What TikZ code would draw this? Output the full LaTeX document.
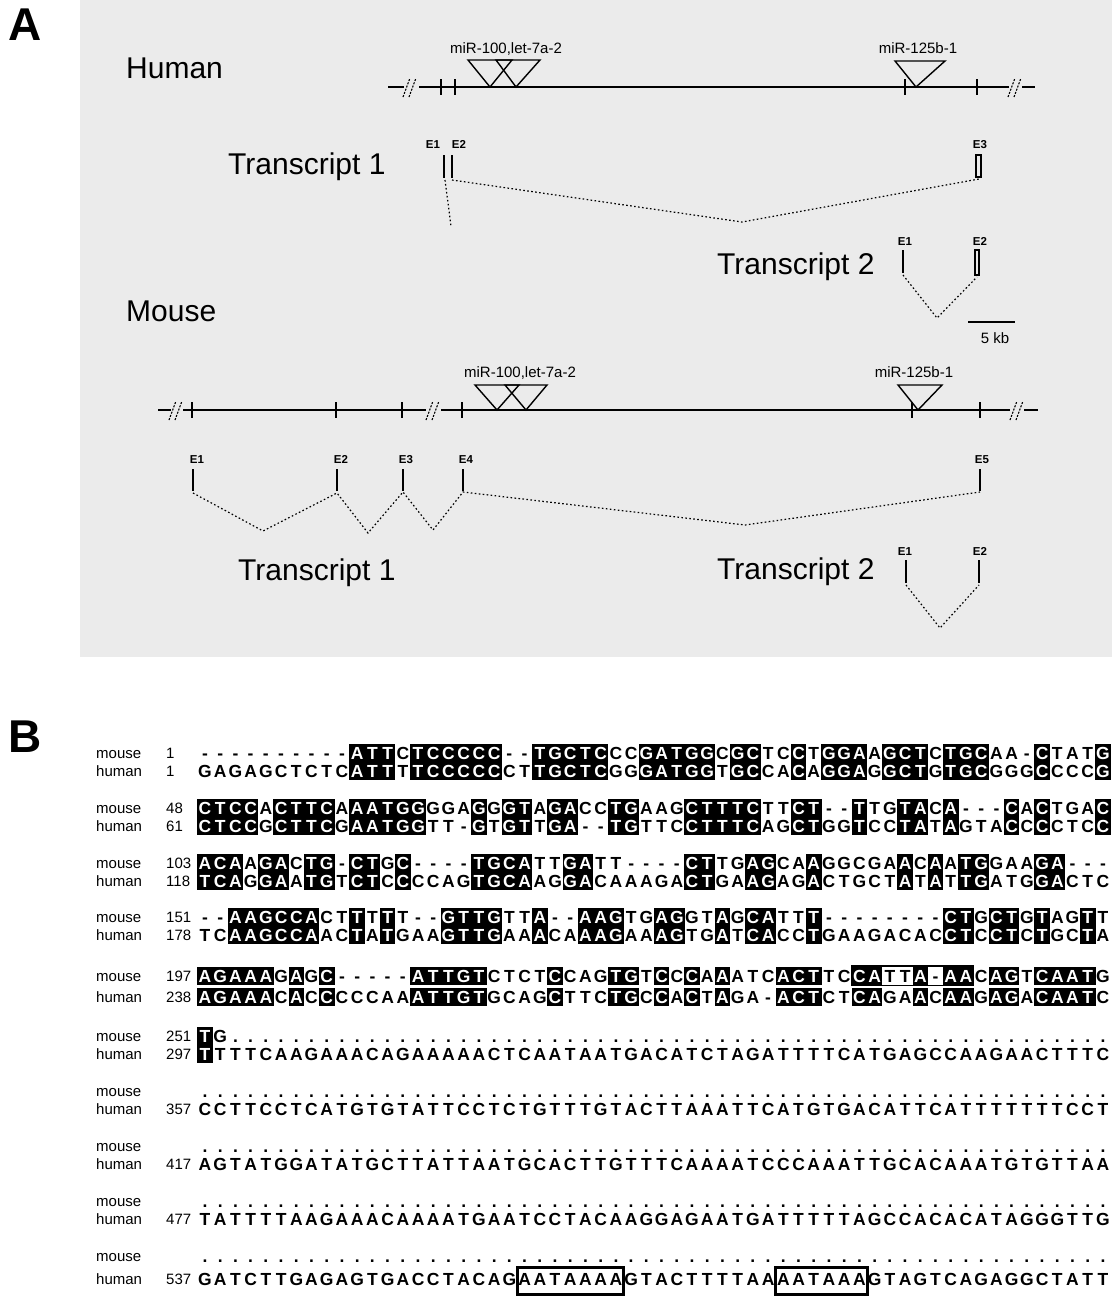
\documentclass[tikz,border=0pt]{standalone}
\usepackage{fontspec}
\setmainfont{Liberation Sans}
\definecolor{panelgray}{RGB}{235,235,235}
\tikzset{
 seqb/.style={anchor=base, inner sep=0pt, font=\fontsize{17.5}{19}\selectfont\bfseries, text=black},
 seqw/.style={seqb, text=white},
 rowlab/.style={anchor=base west, inner sep=0pt, font=\fontsize{15}{18}\selectfont},
 big/.style={anchor=base west, inner sep=0pt, font=\fontsize{30}{34}\selectfont},
 mir/.style={anchor=base, inner sep=0pt, font=\fontsize{15}{18}\selectfont},
 exlab/.style={anchor=base, inner sep=0pt, font=\fontsize{11.5}{13}\selectfont\bfseries},
 gene/.style={line width=1.6pt},
 gtick/.style={line width=2pt},
 tri/.style={line width=1.4pt, line join=miter},
 splice/.style={line width=1.2pt, dash pattern=on 1.6pt off 2.4pt},
 exon/.style={line width=2pt},
 brk/.style={line width=1.1pt, dash pattern=on 2pt off 1.4pt},
 plab/.style={anchor=base west, inner sep=0pt, font=\fontsize{46}{50}\selectfont\bfseries},
 hbox/.style={draw, line width=3pt},
}
\newcommand\SeqCell[4]{%
  \pgfmathsetmacro\sqx{205+(#1-1)*15.22}%
  \ifnum#4=1
    \fill[black] (\sqx-7.75,#2-8.7) rectangle (\sqx+7.75,#2+8.7);
    \node[seqw] (q#1-#2) at (\sqx,#2+6.3) {#3};
  \else
    \node[seqb] (q#1-#2) at (\sqx,#2+6.3) {#3};
  \fi}
\ExplSyntaxOn
\str_new:N \l_sq_m_str
\str_new:N \l_sq_h_str
\tl_new:N \l_sq_mc_tl
\tl_new:N \l_sq_hc_tl
\clist_new:N \l_sq_force_clist
\bool_new:N \l_sq_black_bool
\str_const:Nn \c_sq_letters_str {ACGT}
\cs_new_protected:Npn \SeqBlock #1#2#3#4#5
  {
    \str_set:Nx \l_sq_m_str {#3}
    \str_set:Nx \l_sq_h_str {#4}
    \clist_set:Nn \l_sq_force_clist {#5}
    \int_step_inline:nnn {1} {60}
      {
        \tl_set:Nx \l_sq_mc_tl { \str_item:Nn \l_sq_m_str {##1} }
        \tl_set:Nx \l_sq_hc_tl { \str_item:Nn \l_sq_h_str {##1} }
        \bool_set_false:N \l_sq_black_bool
        \tl_if_eq:NNT \l_sq_mc_tl \l_sq_hc_tl
          {
            \exp_args:NNV \str_if_in:NnT \c_sq_letters_str \l_sq_mc_tl
              { \bool_set_true:N \l_sq_black_bool }
          }
        \clist_if_in:NnT \l_sq_force_clist {##1}
          { \bool_set_true:N \l_sq_black_bool }
        \bool_if:NTF \l_sq_black_bool
          {
            \SeqCell {##1} {#1} {\l_sq_mc_tl} {1}
            \SeqCell {##1} {#2} {\l_sq_hc_tl} {1}
          }
          {
            \SeqCell {##1} {#1} {\l_sq_mc_tl} {0}
            \SeqCell {##1} {#2} {\l_sq_hc_tl} {0}
          }
      }
  }
\ExplSyntaxOff
\def\TenDots{..........}
\def\SixtyDots{\TenDots\TenDots\TenDots\TenDots\TenDots\TenDots}
\def\FiftyEightDots{........\TenDots\TenDots\TenDots\TenDots\TenDots}
\begin{document}
\begin{tikzpicture}[x=1pt,y=-1pt]
\useasboundingbox (0,0) rectangle (1116,1296);
\fill[white] (0,0) rectangle (1116,1296);
\fill[panelgray] (80,0) rectangle (1112,657);
% panel letters
\node[plab] (labA) at (8,40) {A};
\node[plab] (labB) at (8,752) {B};
% ---------------- Human ----------------
\node[big] (human) at (126,78) {Human};
\draw[gene] (388,87) -- (404,87);
\draw[brk] (403,97) -- (410,78);
\draw[brk] (409,97) -- (416,78);
\draw[gene] (419,87) -- (1009,87);
\draw[brk] (1008,97) -- (1015,78);
\draw[brk] (1014,97) -- (1021,78);
\draw[gene] (1022,87) -- (1035,87);
\foreach \tx in {441,455,905,977} \draw[gtick] (\tx,79) -- (\tx,95);
\draw[tri] (468,60) -- (512,60) -- (490,87) -- cycle;
\draw[tri] (496,60) -- (540,60) -- (516,87) -- cycle;
\draw[tri] (895,61) -- (945,61) -- (916,87) -- cycle;
\node[mir] (hmir1) at (506,53) {miR-100,let-7a-2};
\node[mir] (hmir2) at (918,53) {miR-125b-1};
% Human transcript 1
\node[big] (ht1) at (228,174) {Transcript 1};
\node[exlab] (ht1e1l) at (433,148) {E1};
\node[exlab] (ht1e2l) at (459,148) {E2};
\node[exlab] (ht1e3l) at (980,148) {E3};
\draw[exon] (444,155) -- (444,178);
\draw[exon] (452,155) -- (452,178);
\draw[line width=1.2pt] (976,155) rectangle (981,177);
\coordinate (h1a) at (445,180);
\coordinate (h1b) at (452,180);
\coordinate (h1v0) at (451,226);
\coordinate (h1v) at (742,222);
\coordinate (h1c) at (979,179);
\draw[splice] (h1a) -- (h1v0);
\draw[splice] (h1b) -- (h1v) -- (h1c);
% Human transcript 2
\node[big] (ht2) at (717,274) {Transcript 2};
\node[exlab] (ht2e1l) at (905,245) {E1};
\node[exlab] (ht2e2l) at (980,245) {E2};
\draw[exon] (903,250) -- (903,273);
\draw[line width=1.2pt] (975,250) rectangle (979,275);
\coordinate (h2a) at (903,275);
\coordinate (h2v) at (937,318);
\coordinate (h2b) at (977,277);
\draw[splice] (h2a) -- (h2v) -- (h2b);
% scale bar
\draw[line width=1.2pt] (968,322) -- (1015,322);
\node[mir] (kb) at (995,343) {5 kb};
% ---------------- Mouse ----------------
\node[big] (mouse) at (126,321) {Mouse};
\draw[gene] (158,410) -- (171,410);
\draw[brk] (169,420) -- (176,401);
\draw[brk] (175,420) -- (182,401);
\draw[gene] (183,410) -- (426,410);
\draw[brk] (426,420) -- (433,401);
\draw[brk] (432,420) -- (439,401);
\draw[gene] (441,410) -- (1010,410);
\draw[brk] (1010,420) -- (1017,401);
\draw[brk] (1016,420) -- (1023,401);
\draw[gene] (1024,410) -- (1038,410);
\foreach \tx in {192,336,402,462,912,980} \draw[gtick] (\tx,402) -- (\tx,418);
\draw[tri] (475,385) -- (519,385) -- (497,410) -- cycle;
\draw[tri] (505,385) -- (547,385) -- (526,410) -- cycle;
\draw[tri] (898,385) -- (942,385) -- (918,410) -- cycle;
\node[mir] (mmir1) at (520,377) {miR-100,let-7a-2};
\node[mir] (mmir2) at (914,377) {miR-125b-1};
% Mouse transcript 1
\node[exlab] (m1l1) at (197,463) {E1};
\node[exlab] (m1l2) at (341,463) {E2};
\node[exlab] (m1l3) at (406,463) {E3};
\node[exlab] (m1l4) at (466,463) {E4};
\node[exlab] (m1l5) at (982,463) {E5};
\foreach \ex in {193,337,403,463,980} \draw[exon] (\ex,469) -- (\ex,491);
\coordinate (m1e1) at (193,493);
\coordinate (m1v1) at (263,531);
\coordinate (m1e2) at (337,493);
\coordinate (m1v2) at (368,533);
\coordinate (m1e3) at (403,492);
\coordinate (m1v3) at (433,530);
\coordinate (m1e4) at (463,492);
\coordinate (m1v4) at (745,525);
\coordinate (m1e5) at (980,492);
\draw[splice] (m1e1) -- (m1v1) -- (m1e2) -- (m1v2) -- (m1e3) -- (m1v3) -- (m1e4) -- (m1v4) -- (m1e5);
\node[big] (mt1) at (238,580) {Transcript 1};
% Mouse transcript 2
\node[big] (mt2) at (717,579) {Transcript 2};
\node[exlab] (m2l1) at (905,555) {E1};
\node[exlab] (m2l2) at (980,555) {E2};
\draw[exon] (906,560) -- (906,583);
\draw[exon] (979,560) -- (979,583);
\coordinate (m2a) at (906,585);
\coordinate (m2v) at (940,628);
\coordinate (m2b) at (979,585);
\draw[splice] (m2a) -- (m2v) -- (m2b);
% ---------------- Panel B ----------------
\foreach \ym/\yh/\nm/\nh [count=\i] in {753/771/1/1, 808/826/48/61, 863/881/103/118, 917/935/151/178, 976/997/197/238, 1036/1054/251/297}{
  \node[rowlab] (lm\i) at (96,\ym+5) {mouse};
  \node[rowlab] (lh\i) at (96,\yh+5) {human};
  \node[rowlab] (nm\i) at (166,\ym+5) {\nm};
  \node[rowlab] (nh\i) at (166,\yh+5) {\nh};
}
\foreach \ym/\yh/\nh [count=\i from 7] in {1091/1109/357, 1146/1164/417, 1201/1219/477, 1256/1279/537}{
  \node[rowlab] (lm\i) at (96,\ym+5) {mouse};
  \node[rowlab] (lh\i) at (96,\yh+5) {human};
  \node[rowlab] (nh\i) at (166,\yh+5) {\nh};
}
\SeqBlock{753}{771}{----------ATTCTCCCCC--TGCTCCCGATGGCGCTCCTGGAAGCTCTGCAA-CTATG}{GAGAGCTCTCATTTTCCCCCCTTGCTCGGGATGGTGCCACAGGAGGCTGTGCGGGCCCCG}{}
\SeqBlock{808}{826}{CTCCACTTCAAATGGGGAGGGTAGACCTGAAGCTTTCTTCT--TTGTACA---CACTGAC}{CTCCGCTTCGAATGGTT-GTGTTGA--TGTTCCTTTCAGCTGGTCCTATAGTACCCCTCC}{}
\SeqBlock{863}{881}{ACAAGACTG-CTGC----TGCATTGATT----CTTGAGCAAGGCGAACAATGGAAGA---}{TCAGGAATGTCTCCCCAGTGCAAGGACAAAGACTGAAGAGACTGCTATATTGATGGACTC}{1}
\SeqBlock{917}{935}{--AAGCCACTTTTT--GTTGTTA--AAGTGAGGTAGCATTT--------CTGCTGTAGTT}{TCAAGCCAACTATGAAGTTGAAACAAAGAAAGTGATCACCTGAAGACACCTCCTCTGCTA}{}
\SeqBlock{976}{997}{AGAAAGAGC-----ATTGTCTCTCCAGTGTCCCAAATCACTTCCATTA-AACAGTCAATG}{AGAAACACCCCCAAATTGTGCAGCTTCTGCCACTAGA-ACTCTCAGAACAAGAGACAATC}{}
\SeqBlock{1036}{1054}{TG\FiftyEightDots}{TTTTCAAGAAACAGAAAAACTCAATAATGACATCTAGATTTTCATGAGCCAAGAACTTTC}{}
\SeqBlock{1091}{1109}{\SixtyDots}{CCTTCCTCATGTGTATTCCTCTGTTTGTACTTAAATTCATGTGACATTCATTTTTTTCCT}{}
\SeqBlock{1146}{1164}{\SixtyDots}{AGTATGGATATGCTTATTAATGCACTTGTTTCAAAATCCCAAATTGCACAAATGTGTTAA}{}
\SeqBlock{1201}{1219}{\SixtyDots}{TATTTTAAGAAACAAAATGAATCCTACAAGGAGAATGATTTTTAGCCACACATAGGGTTG}{}
\SeqBlock{1256}{1279}{\SixtyDots}{GATCTTGAGAGTGACCTACAGAATAAAAGTACTTTTAAAATAAAGTAGTCAGAGGCTATT}{}
% outlined boxes
\draw[line width=1.5pt] (851.8,966) rectangle (973.6,985.5);
\draw[hbox] (517,1267) rectangle (623.6,1294);
\draw[hbox] (775.8,1267) rectangle (867.1,1294);
\end{tikzpicture}
\end{document}
